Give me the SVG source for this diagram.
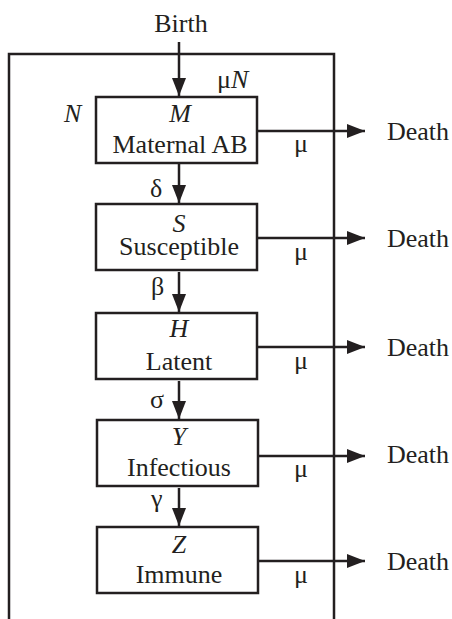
<svg xmlns="http://www.w3.org/2000/svg" width="452" height="619" viewBox="0 0 452 619">
<style>
text{font-family:"Times New Roman",Times,"Liberation Serif",serif;font-size:26px;fill:#231f20}
.c{text-anchor:middle}
.i{font-style:italic}
.box{fill:#fff;stroke:#231f20;stroke-width:2.5}
.ln{stroke:#231f20;stroke-width:2.5;fill:none}
</style>
<defs>
<marker id="ah" markerUnits="userSpaceOnUse" markerWidth="18" markerHeight="16" refX="18" refY="8" orient="auto">
<path d="M0,1 L18,8 L0,15 z" fill="#231f20"/>
</marker>
</defs>
<rect width="452" height="619" fill="#fff"/>
<path class="ln" d="M9,619 V54 H334 V619"/>
<g id="connectors">
<line class="ln" x1="179" y1="42" x2="179" y2="96" marker-end="url(#ah)"/>
<line class="ln" x1="179" y1="164" x2="179" y2="203" marker-end="url(#ah)"/>
<line class="ln" x1="179" y1="272" x2="179" y2="312" marker-end="url(#ah)"/>
<line class="ln" x1="179" y1="381" x2="179" y2="419" marker-end="url(#ah)"/>
<line class="ln" x1="179" y1="488" x2="179" y2="526" marker-end="url(#ah)"/>
<line class="ln" x1="257" y1="131" x2="365" y2="131" marker-end="url(#ah)"/>
<line class="ln" x1="257" y1="238" x2="365" y2="238" marker-end="url(#ah)"/>
<line class="ln" x1="257" y1="347" x2="365" y2="347" marker-end="url(#ah)"/>
<line class="ln" x1="258" y1="456" x2="365" y2="456" marker-end="url(#ah)"/>
<line class="ln" x1="258" y1="561" x2="365" y2="561" marker-end="url(#ah)"/>
<text x="150" y="197">δ</text>
<text x="151" y="295">β</text>
<text x="150" y="408">σ</text>
<text x="151" y="507">γ</text>
<text x="217" y="88">μ<tspan class="i">N</tspan></text>
<text class="i" x="64" y="122">N</text>
<text x="294" y="152">μ</text>
<text x="294" y="260">μ</text>
<text x="294" y="369">μ</text>
<text x="294" y="477">μ</text>
<text x="294" y="583">μ</text>
</g>
<g id="birth"><text class="c" x="181" y="32">Birth</text></g>
<g id="node-M">
<rect class="box" x="96" y="97" width="161" height="66"/>
<text class="c i" x="180" y="122">M</text>
<text class="c" x="180" y="153">Maternal AB</text>
</g>
<g id="node-S">
<rect class="box" x="96" y="204" width="161" height="66"/>
<text class="c i" x="179" y="232">S</text>
<text class="c" x="179" y="255">Susceptible</text>
</g>
<g id="node-H">
<rect class="box" x="96" y="313" width="161" height="66"/>
<text class="c i" x="179" y="337">H</text>
<text class="c" x="179" y="370">Latent</text>
</g>
<g id="node-Y">
<rect class="box" x="97" y="420" width="161" height="66"/>
<text class="c i" x="179" y="445">Y</text>
<text class="c" x="179" y="476">Infectious</text>
</g>
<g id="node-Z">
<rect class="box" x="97" y="527" width="161" height="66"/>
<text class="c i" x="179" y="553">Z</text>
<text class="c" x="179" y="583">Immune</text>
</g>
<g id="deaths">
<text x="387" y="140">Death</text>
<text x="387" y="247">Death</text>
<text x="387" y="356">Death</text>
<text x="387" y="463">Death</text>
<text x="387" y="570">Death</text>
</g>
</svg>
